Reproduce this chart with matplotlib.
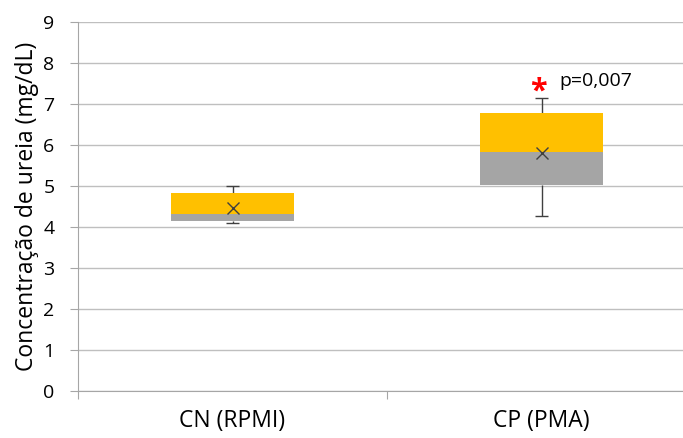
# plot.py
# 尿素浓度箱线图（仿 Excel 样式）
import matplotlib
matplotlib.use('Agg')
import matplotlib.pyplot as plt
import numpy as np

###########数据###########
categories = ['CN (RPMI)', 'CP (PMA)']
q1 = [4.15, 5.03]       # 下四分位
median = [4.32, 5.84]   # 中位数
q3 = [4.84, 6.77]       # 上四分位
wlow = [4.09, 4.27]     # 下须
whigh = [5.00, 7.14]    # 上须
mean = [4.46, 5.81]     # 平均值 (x)
p_text = 'p=0,007'

###########绘图###########
plt.rcParams['font.family'] = ['Open Sans', 'DejaVu Sans']
fig = plt.figure(figsize=(6.83, 4.38), dpi=100)
ax = fig.add_axes([78/683, 1 - 391/438, 618/683, 369/438])

x = np.arange(1, len(categories) + 1)
w = 0.40
ax.bar(x, np.array(median) - np.array(q1), w, bottom=q1, color='#A5A5A5', zorder=3)
ax.bar(x, np.array(q3) - np.array(median), w, bottom=median, color='#FFC000', zorder=3)
# 须
ax.vlines(x, q3, whigh, color='#404040', lw=1, zorder=2)
ax.vlines(x, wlow, q1, color='#404040', lw=1, zorder=2)
ax.hlines(whigh, x - 0.022, x + 0.022, color='#404040', lw=1, zorder=2)
ax.hlines(wlow, x - 0.022, x + 0.022, color='#404040', lw=1, zorder=2)
ax.plot(x, mean, 'x', color='#404040', ms=9, mew=1, zorder=4)

# 显著性标注
ax.text(x[1] - 0.01, whigh[1] + 0.16, '*', color='red', fontsize=22, ha='center', va='center',
        fontweight='bold', zorder=5)
ax.text(x[1] + 0.058, 7.56, p_text, fontsize=14, ha='left', va='center', zorder=5)

ax.set_xlim(0.5, 2.5)
ax.set_ylim(0, 9)
ax.set_yticks(range(0, 10))
ax.set_xticks([0.5, 1.5, 2.5])
ax.set_xticklabels([])
ax.set_xticks(x, minor=True)
ax.set_xticklabels(categories, minor=True, fontsize=16.5)
ax.tick_params(axis='x', which='minor', length=0, pad=13)
ax.tick_params(axis='x', which='major', length=6, color='#A6A6A6', direction='out')
ax.tick_params(axis='y', length=6, color='#A6A6A6', labelsize=14, pad=11)
ax.yaxis.grid(True, color='#BFBFBF', lw=1, zorder=0)
ax.set_axisbelow(True)
for s in ['top', 'right']:
    ax.spines[s].set_visible(False)
ax.spines['left'].set_color('#A6A6A6')
ax.spines['bottom'].set_color('#A6A6A6')
ax.set_ylabel('Concentração de ureia (mg/dL)', fontsize=16.5, labelpad=3)

fig.savefig('out.png', dpi=100)
